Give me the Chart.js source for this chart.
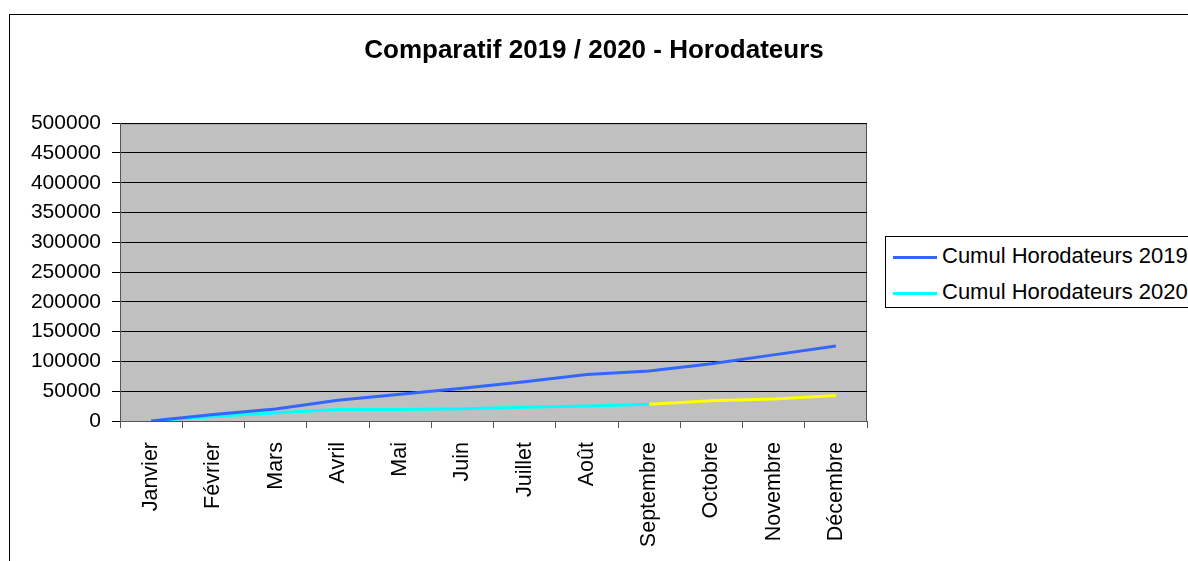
<!DOCTYPE html>
<html lang="fr">
<head>
<meta charset="utf-8">
<title>Comparatif 2019 / 2020 - Horodateurs</title>
<script src="https://cdn.jsdelivr.net/npm/chart.js@4.4.1/dist/chart.umd.min.js"></script>
<style>
  html, body { margin: 0; padding: 0; background: #fff; overflow: hidden; }
  #wrap { position: relative; width: 1188px; height: 561px; overflow: hidden; }
  #frame {
    position: absolute; left: 9px; top: 14px; width: 1400px; height: 800px;
    border: 1px solid #000; box-sizing: border-box;
  }
  #chart { position: absolute; left: 0; top: 0; }
  #legend {
    position: absolute; left: 885px; top: 236px; width: 400px; height: 72px;
    border: 1px solid #000; box-sizing: border-box; background: #fff;
    font-family: "Liberation Sans", Arial, sans-serif; font-size: 22px; color: #000;
  }
  .item { position: absolute; left: 7px; height: 24px; line-height: 24px; white-space: nowrap; }
  .item span.swatch { display: inline-block; width: 44px; height: 3px; vertical-align: middle; margin-right: 5px; }
</style>
</head>
<body>
<div id="wrap">
  <div id="frame"></div>
  <canvas id="chart" width="1188" height="561"></canvas>
  <div id="legend"></div>
</div>
<script>
// months on the x axis
const months = ['Janvier', 'Février', 'Mars', 'Avril', 'Mai', 'Juin', 'Juillet', 'Août',
  'Septembre', 'Octobre', 'Novembre', 'Décembre'];

// cumulative values
const cumul2019 = [0, 11000, 20000, 35000, 45000, 55000, 66000, 78000, 84000, 96000, 111000, 126000];
const cumul2020 = [0, 7500, 14000, 19500, 19500, 20500, 23000, 25000, 28000, null, null, null];
// end of 2020 drawn in yellow (not in the legend)
const suite2020 = [null, null, null, null, null, null, null, null, 28000, 34000, 37000, 43000];

const yTicks = [0, 50000, 100000, 150000, 200000, 250000, 300000, 350000, 400000, 450000, 500000];

const FONT = '"Liberation Sans", Arial, sans-serif';

// grey plot area with its frame
const plotBackground = {
  id: 'plotBackground',
  beforeDraw(chart) {
    const { ctx, chartArea: a } = chart;
    ctx.save();
    ctx.fillStyle = '#c0c0c0';
    ctx.fillRect(a.left, a.top, a.right - a.left, a.bottom - a.top);
    ctx.strokeStyle = '#555';
    ctx.lineWidth = 1;
    ctx.strokeRect(a.left + 0.5, a.top + 0.5, a.right - a.left - 1, a.bottom - a.top);
    ctx.restore();
  }
};

const datasets = [
  { label: 'Cumul Horodateurs 2019', data: cumul2019, borderColor: '#3366ff', inLegend: true },
  { label: 'Cumul Horodateurs 2020', data: cumul2020, borderColor: '#00ffff', inLegend: true },
  { label: 'Suite 2020', data: suite2020, borderColor: '#ffff00', inLegend: false }
].map(d => Object.assign(d, {
  borderWidth: 3,
  pointRadius: 0,
  pointHoverRadius: 0,
  tension: 0,
  fill: false,
  spanGaps: false
}));

const chart = new Chart(document.getElementById('chart'), {
  type: 'line',
  data: { labels: months, datasets: datasets },
  plugins: [plotBackground],
  options: {
    responsive: false,
    animation: false,
    devicePixelRatio: 1,
    layout: { padding: 0 },
    plugins: {
      legend: { display: false },
      tooltip: { enabled: false },
      title: {
        display: true,
        text: 'Comparatif 2019 / 2020 - Horodateurs',
        color: '#000',
        font: { family: FONT, size: 26, weight: 'bold', lineHeight: 1.2 },
        padding: { top: 35, bottom: 57 }
      }
    },
    scales: {
      x: {
        type: 'category',
        offset: true,
        afterFit: s => { s.height = 140; },
        grid: {
          offset: true,
          drawOnChartArea: false,
          drawTicks: true,
          tickLength: 7,
          tickColor: '#555'
        },
        border: { display: true, color: '#555' },
        ticks: {
          autoSkip: false,
          minRotation: 90,
          maxRotation: 90,
          padding: 14,
          color: '#000',
          font: { family: FONT, size: 21.5 }
        }
      },
      y: {
        min: 0,
        max: 500000,
        afterFit: s => { s.width = 120; },
        afterBuildTicks: s => { s.ticks = yTicks.map(v => ({ value: v })); },
        grid: {
          color: '#000',
          lineWidth: 1,
          tickLength: 8,
          tickColor: '#000'
        },
        border: { display: true, color: '#555' },
        ticks: {
          padding: 11,
          color: '#000',
          font: { family: FONT, size: 21 },
          callback: v => String(v)
        }
      },
      // empty space on the right where the legend sits
      side: {
        position: 'right',
        min: 0,
        max: 1,
        afterFit: s => { s.width = 321; },
        grid: { display: false },
        border: { display: false },
        ticks: { display: false }
      }
    }
  }
});

// legend box on the right, built from the datasets
const legend = document.getElementById('legend');
datasets.filter(d => d.inLegend).forEach((d, i) => {
  const item = document.createElement('div');
  item.className = 'item';
  item.style.top = (7 + i * 36) + 'px';
  const sw = document.createElement('span');
  sw.className = 'swatch';
  sw.style.background = d.borderColor;
  item.appendChild(sw);
  item.appendChild(document.createTextNode(d.label));
  legend.appendChild(item);
});
</script>
</body>
</html>
